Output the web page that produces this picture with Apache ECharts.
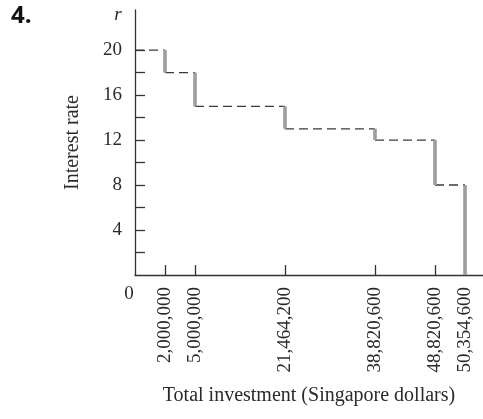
<!DOCTYPE html>
<html>
<head>
<meta charset="utf-8">
<script src="https://cdn.jsdelivr.net/npm/echarts@6/dist/echarts.min.js"></script>
<style>html,body{margin:0;padding:0;background:#fff}#chart{width:483px;height:419px}</style>
</head>
<body>
<div id="chart"></div>
<script>
// Cumulative investment breakpoints (Singapore dollars)
const investment = [0, 2000000, 5000000, 21464200, 38820600, 48820600, 50354600];
// Horizontal slot of each breakpoint on the (not-to-scale) axis
const slots = [0, 1, 2, 5, 8, 10, 11];
// Interest rate on each investment band (between consecutive breakpoints)
const rates = [20, 18, 15, 13, 12, 8];
// Y tick labels
const yLabels = [4, 8, 12, 16, 20];
const yTicks = [2, 4, 6, 8, 10, 12, 14, 16, 18, 20];

const fmt = v => v.toLocaleString('en-US');
const labelBySlot = {};
slots.forEach((s, i) => { labelBySlot[s] = fmt(investment[i]); });

const serif = '"Liberation Serif", "DejaVu Serif", serif';
const series = [];
// horizontal dashed bands
for (let i = 0; i < rates.length; i++) {
  series.push({
    type: 'line', silent: true, symbol: 'none', z: 2,
    data: [[slots[i], rates[i]], [slots[i + 1], rates[i]]],
    lineStyle: { color: '#3a3a3a', width: 1.3, type: [9, 5] }
  });
}
// vertical grey drops
for (let i = 0; i < rates.length; i++) {
  const next = i + 1 < rates.length ? rates[i + 1] : 0;
  series.push({
    type: 'line', silent: true, symbol: 'none', z: 3,
    data: [[slots[i + 1], rates[i]], [slots[i + 1], next]],
    lineStyle: { color: '#9d9d9d', width: 3.6, cap: 'butt' }
  });
}

const chart = echarts.init(document.getElementById('chart'), null, { renderer: 'canvas' });
chart.setOption({
  animation: false,
  backgroundColor: '#fff',
  grid: { left: 135, right: 0, top: 10, bottom: 144, containLabel: false },
  xAxis: {
    type: 'value', min: 0, max: 11.6,
    name: 'Total investment (Singapore dollars)',
    nameLocation: 'middle', nameGap: 111,
    nameTextStyle: { fontFamily: serif, fontSize: 20, color: '#2a2a2a' },
    axisLine: { show: true, onZero: false, lineStyle: { color: '#333', width: 1.3 } },
    axisTick: { show: true, inside: true, length: 10, customValues: slots.slice(1), lineStyle: { color: '#333', width: 1.3 } },
    axisLabel: {
      customValues: slots.slice(1), rotate: 90, margin: 12,
      fontFamily: serif, fontSize: 19, color: '#2a2a2a',
      formatter: v => labelBySlot[v] || ''
    },
    splitLine: { show: false }
  },
  yAxis: {
    type: 'value', min: 0, max: 23.56, interval: 2,
    name: 'Interest rate',
    nameLocation: 'middle', nameGap: 52, nameRotate: 90,
    nameTextStyle: { fontFamily: serif, fontSize: 20, color: '#2a2a2a' },
    axisLine: { show: true, lineStyle: { color: '#333', width: 1.3 } },
    axisTick: { show: true, inside: true, length: 10, customValues: yTicks, lineStyle: { color: '#333', width: 1.3 } },
    axisLabel: {
      customValues: yLabels, margin: 13,
      fontFamily: serif, fontSize: 19, color: '#2a2a2a'
    },
    splitLine: { show: false }
  },
  graphic: [
    { type: 'text', left: 11, top: 4, style: { text: '4.', font: 'bold 24px "Open Sans", "DejaVu Sans", sans-serif', fill: '#111' } },
    { type: 'text', x: 118, y: 15, style: { text: 'r', font: 'italic 19px "Liberation Serif", serif', fill: '#2a2a2a', textAlign: 'center', textVerticalAlign: 'middle' } },
    { type: 'text', x: 129, y: 294, style: { text: '0', font: '19px "Liberation Serif", serif', fill: '#2a2a2a', textAlign: 'center', textVerticalAlign: 'middle' } }
  ],
  series: series
});
</script>
</body>
</html>
